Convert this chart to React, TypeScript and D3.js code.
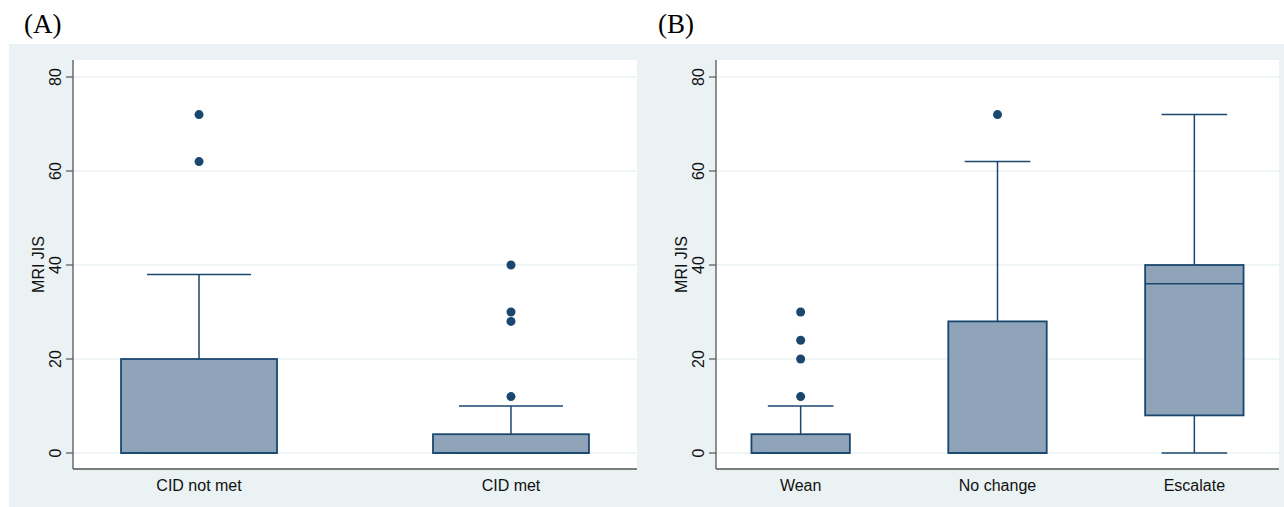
import React from 'react';
import * as d3 from 'd3';

// box summaries: [lowWhisker, q1, median, q3, highWhisker]
const panelACategories = ['CID not met', 'CID met'];
const panelAStats = [
  [0, 0, 0, 20, 38],
  [0, 0, 0, 4, 10],
];
const panelAOutliers = [
  [62, 72],
  [12, 28, 30, 40],
];

const panelBCategories = ['Wean', 'No change', 'Escalate'];
const panelBStats = [
  [0, 0, 0, 4, 10],
  [0, 0, 0, 28, 62],
  [0, 8, 36, 40, 72],
];
const panelBOutliers = [
  [12, 20, 24, 30],
  [72],
  [],
];

const yTicks = [0, 20, 40, 60, 80];

const NAVY = '#1a476f';
const FILL = '#8fa4b8';
const BG = '#eaf2f3';
const FONT = '"Liberation Sans", Arial, Helvetica, sans-serif';

type PanelProps = {
  label: string;
  labelX: number;
  left: number;
  right: number;
  categories: string[];
  stats: number[][];
  outliers: number[][];
  padding: number;
};

const top = 60;
const bottom = 469;

const Panel = ({ label, labelX, left, right, categories, stats, outliers, padding }: PanelProps) => {
  const y = d3.scaleLinear().domain([0, 80]).range([453, 77]);
  const x = d3.scalePoint<string>().domain(categories).range([left, right]).padding(padding);
  const boxW = x.step() * 0.5;
  const capW = boxW * 2 / 3;

  return (
    <g>
      <text x={labelX} y={33} fontFamily='"Liberation Serif", "Times New Roman", serif' fontSize={27}>{label}</text>
      <rect x={left} y={top} width={right - left} height={bottom - top} fill="#fff" />
      {yTicks.map(t => (
        <g key={t}>
          <line x1={left} x2={right} y1={y(t)} y2={y(t)} stroke={BG} strokeWidth={1.5} />
          <line x1={left - 7} x2={left} y1={y(t)} y2={y(t)} stroke="#555" strokeWidth={1.2} />
          <text transform={`translate(${left - 12},${y(t)}) rotate(-90)`} textAnchor="middle"
            fontFamily={FONT} fontSize={16} fill="#111">{t}</text>
        </g>
      ))}
      <text transform={`translate(${left - 29},${(top + bottom) / 2}) rotate(-90)`} textAnchor="middle"
        fontFamily={FONT} fontSize={16} fill="#111">MRI JIS</text>
      <line x1={left} x2={left} y1={top} y2={bottom} stroke="#555" strokeWidth={1.3} />
      <line x1={left} x2={right} y1={bottom} y2={bottom} stroke="#555" strokeWidth={1.3} />
      {categories.map((c, i) => {
        const cx = x(c) as number;
        const [lo, q1, med, q3, hi] = stats[i];
        return (
          <g key={c}>
            <line x1={cx} x2={cx} y1={y(q3)} y2={y(hi)} stroke={NAVY} strokeWidth={1.5} />
            <line x1={cx} x2={cx} y1={y(q1)} y2={y(lo)} stroke={NAVY} strokeWidth={1.5} />
            <line x1={cx - capW / 2} x2={cx + capW / 2} y1={y(hi)} y2={y(hi)} stroke={NAVY} strokeWidth={1.5} />
            <line x1={cx - capW / 2} x2={cx + capW / 2} y1={y(lo)} y2={y(lo)} stroke={NAVY} strokeWidth={1.5} />
            <rect x={cx - boxW / 2} y={y(q3)} width={boxW} height={y(q1) - y(q3)}
              fill={FILL} stroke={NAVY} strokeWidth={1.8} />
            <line x1={cx - boxW / 2} x2={cx + boxW / 2} y1={y(med)} y2={y(med)} stroke={NAVY} strokeWidth={1.5} />
            {outliers[i].map(v => (
              <circle key={v} cx={cx} cy={y(v)} r={4.5} fill={NAVY} />
            ))}
            <text x={cx} y={491} textAnchor="middle" fontFamily={FONT} fontSize={16} fill="#111">{c}</text>
          </g>
        );
      })}
    </g>
  );
};

const App = () => (
  <svg width={1284} height={507} style={{ position: 'absolute', left: 0, top: 0 }}>
    <rect width={1284} height={507} fill="#fff" />
    <rect x={9} y={44} width={1275} height={463} fill={BG} />
    <Panel label="(A)" labelX={24} left={73} right={637} categories={panelACategories}
      stats={panelAStats} outliers={panelAOutliers} padding={0.404} />
    <Panel label="(B)" labelX={658} left={716} right={1279} categories={panelBCategories}
      stats={panelBStats} outliers={panelBOutliers} padding={0.43} />
  </svg>
);

export default App;
